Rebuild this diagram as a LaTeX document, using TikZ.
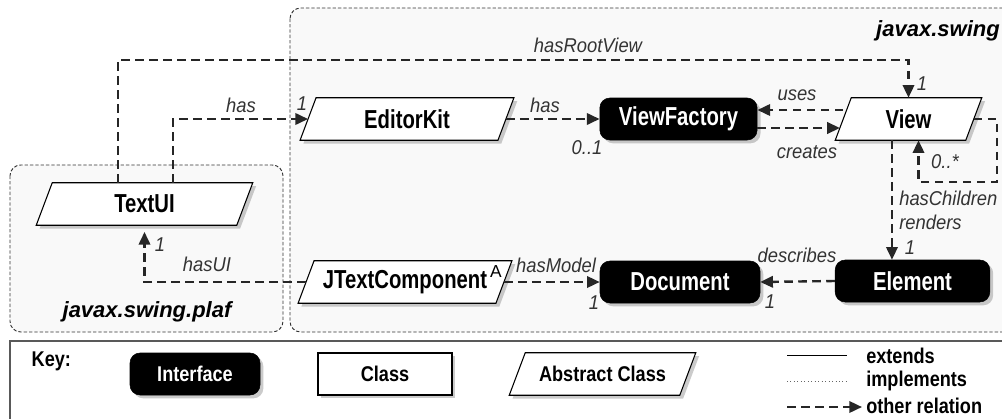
\documentclass[tikz,border=0pt]{standalone}
\usepackage{fontspec}
\setmainfont{Liberation Sans}
\newfontfamily\boxfont[FakeStretch=0.78]{Liberation Sans}
\newfontfamily\keyfont[FakeStretch=0.85]{Liberation Sans}
\newfontfamily\relfont[FakeStretch=0.92]{Liberation Sans}
\usetikzlibrary{arrows.meta,shadows}

% abstract class: slanted box drawn round an empty node, text on top
\newcommand{\absclass}[5][]{%
  \node[absbox, minimum width=#4] (#2) at (#3) {};
  \filldraw[absshape] ([xshift=-6pt]#2.south west) -- ([xshift=-6pt]#2.south east)
    -- ([xshift=6pt]#2.north east) -- ([xshift=6pt]#2.north west) -- cycle;
  \node[abstext, #1] (#2-txt) at (#2) {#5};
}

\begin{document}
\begin{tikzpicture}[
    x=0.75pt, y=-0.75pt,
    shad/.style={drop shadow={shadow xshift=2.5pt, shadow yshift=-2.5pt, fill=black!45, opacity=0.45}},
    pkg/.style={draw=black!80, line width=0.7pt, dash pattern=on 2.5pt off 1.5pt, fill=black!2.5, rounded corners=8pt},
    pkgname/.style={font=\bfseries\itshape\fontsize{16.5}{18}\selectfont, inner sep=0pt},
    iface/.style={shad, draw, fill=black, text=white, rounded corners=7.5pt, minimum height=31.5pt, font=\boxfont\bfseries\fontsize{19.5}{22}\selectfont},
    cls/.style={shad, draw, line width=0.8pt, fill=white, minimum height=31.5pt, font=\boxfont\bfseries\fontsize{19.5}{22}\selectfont},
    absbox/.style={minimum height=31.5pt, inner sep=0pt},
    absshape/.style={shad, draw, line width=0.8pt, fill=white},
    abstext/.style={font=\boxfont\bfseries\fontsize{19.5}{22}\selectfont},
    keytext/.style={font=\keyfont\bfseries\fontsize{16}{18}\selectfont},
    rel/.style={black!85, line width=1.8pt, dash pattern=on 6.5pt off 4pt, -{Triangle[length=9.5pt,width=8.5pt]}},
    lab/.style={font=\relfont\itshape\fontsize{15}{18}\selectfont, text=black!80, inner sep=0pt}
]
\useasboundingbox (0,0) rectangle (1002,418);

% packages
\draw[pkg] (290,8) rectangle (1020,332);
\draw[pkg] (10,165) rectangle (283,332);
\node[pkgname, anchor=base east] (swing) at (1000,36) {javax.swing};
\node[pkgname] (plaf) at (147,312) {javax.swing.plaf};

% classes
\absclass{textui}{144.5,204}{150pt}{TextUI}
\absclass{editorkit}{407,119}{148pt}{EditorKit}
\absclass{view}{908.5,119}{97.5pt}{View}
\absclass{jtext}{405,282}{148pt}{JTextComponent\hspace{13pt}}
\node[font=\fontsize{13}{15}\selectfont] (amark) at (496,272) {A};
\node[iface, minimum width=118pt] (viewfactory) at (678.5,119) {ViewFactory};
\node[iface, minimum width=120pt] (document) at (680,282) {Document};
\node[iface, minimum width=116pt] (element) at (912.5,281) {Element};

% relations
\coordinate (rootbend) at (118,60);
\draw[rel] (textui.north -| rootbend) -- (rootbend) -- (rootbend -| view.north) -- (view.north);
\coordinate (hasbend) at (173,119);
\draw[rel] (textui.north -| hasbend) |- (editorkit.west);
\draw[rel] (editorkit.east) -- (viewfactory.west);
\draw[rel] ([yshift=6.75pt]view.west) -- ([yshift=6.75pt]viewfactory.east);
\draw[rel] ([yshift=-6.75pt]viewfactory.east) -- ([yshift=-6.75pt, xshift=-2.5pt]view.west);
\coordinate (loopcorner) at (997,182);
\draw[rel] (view.east) -| (loopcorner) -| ([xshift=7.5pt]view.south);
\draw[rel] ([xshift=-12.4pt]view.south) coordinate (childtop) -- (childtop |- element.north);
\draw[rel] (element.west) -- (document.east);
\draw[rel] (jtext.east) -- (document.west);
\draw[rel, shorten >=5pt] (jtext.west) -| (textui.south);

% relation labels
\node[lab] (rootlab) at (588,45) {hasRootView};
\node[lab] (rootmult) at (922,84) {1};
\node[lab] (haslab1) at (241,105) {has};
\node[lab] (hasmult1) at (302,104) {1};
\node[lab] (haslab2) at (545,105) {has};
\node[lab] (hasmult2) at (587,148) {0..1};
\node[lab] (useslab) at (797,95) {uses};
\node[lab] (createslab) at (807,152) {creates};
\node[lab] (loopmult) at (945,162) {0..*};
\node[lab, anchor=west, align=left] (childlab) at (899,210) {hasChildren\\renders};
\node[lab] (childmult) at (910,248) {1};
\node[lab] (describeslab) at (797,255) {describes};
\node[lab] (describesmult) at (770,302) {1};
\node[lab] (modellab) at (556,265) {hasModel};
\node[lab] (modelmult) at (594,303) {1};
\node[lab] (uilab) at (207,264) {hasUI};
\node[lab] (uimult) at (160,245) {1};

% key
\draw[black!65, line width=1.3pt, fill=white] (10,341) rectangle (1020,430);
\node[keytext, anchor=base west] (key) at (27,366) {Key:};
\node[iface, keytext, minimum width=97.5pt] (keyiface) at (195,374) {Interface};
\node[cls, keytext, minimum width=100.5pt] (keycls) at (385,374) {Class};
\absclass[keytext]{keyabs}{602.5,374}{127.5pt}{Abstract Class}
\draw[line width=0.6pt] (787,355) -- (847,355);
\draw[line width=0.6pt, dotted, black!60] (787,381) -- (847,381);
\draw[rel] (787,407) -- (862,407);
\node[keytext, anchor=west, inner sep=0pt] (extends) at (866,356) {extends};
\node[keytext, anchor=west, inner sep=0pt] (implements) at (866,381) {implements};
\node[keytext, anchor=west, inner sep=0pt] (other) at (866,406) {other relation};
\end{tikzpicture}
\end{document}
